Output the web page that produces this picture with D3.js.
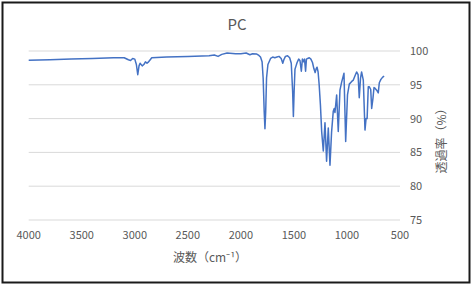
<!DOCTYPE html>
<html>
<head>
<meta charset="utf-8">
<script src="https://cdn.jsdelivr.net/npm/d3@7"></script>
<style>
  body { margin: 0; background: #fff; }
  text { font-family: "Noto Sans CJK JP", "Noto Sans", sans-serif; fill: #595959; }
</style>
</head>
<body>
<div id="chart"></div>
<script>
// wavenumber (cm-1) and transmittance (%)
const wavenumber = [4000, 3800, 3600, 3400, 3200, 3100, 3060, 3040, 3020, 3000, 2985, 2972, 2960, 2950, 2930, 2915,
  2900, 2885, 2870, 2860, 2840, 2700, 2500, 2300, 2250, 2215, 2180, 2130, 2050, 2000, 1950, 1915, 1890, 1850,
  1830, 1815, 1800, 1790, 1780, 1773, 1766, 1758, 1745, 1720, 1700, 1680, 1660, 1640, 1620, 1605, 1595, 1580,
  1560, 1540, 1525, 1512, 1505, 1498, 1490, 1480, 1470, 1455, 1443, 1430, 1420, 1410, 1400, 1390, 1382, 1370,
  1355, 1340, 1325, 1312, 1300, 1290, 1282, 1272, 1262, 1250, 1238, 1223, 1207, 1192, 1176, 1160, 1145, 1129,
  1120, 1113, 1097, 1082, 1066, 1050, 1028, 1012, 995, 978, 955, 940, 925, 909, 895, 884, 872, 862, 846, 830,
  820, 810, 799, 789, 776, 767, 755, 745, 736, 720, 705, 695, 680, 665, 650];
const transmittance = [98.65, 98.7, 98.8, 98.9, 99.0, 99.0, 98.7, 98.6, 98.9, 98.8, 98.0, 96.5, 97.8, 98.2, 97.8, 98.0,
  98.4, 98.2, 98.4, 98.6, 99.0, 99.1, 99.2, 99.3, 99.4, 99.2, 99.5, 99.7, 99.6, 99.6, 99.7, 99.45, 99.6, 99.55,
  99.35, 99.1, 98.4, 96.0, 91.0, 88.5, 91.0, 96.0, 98.0, 98.9, 99.1, 99.0, 99.1, 99.2, 98.9, 98.2, 98.7, 99.2,
  99.3, 99.0, 98.2, 94.0, 90.3, 94.0, 97.3, 97.8, 98.3, 98.8, 98.6, 97.0, 98.8, 98.4, 98.8, 97.0, 98.8, 98.9,
  99.0, 98.8, 98.3, 97.4, 96.8, 97.4, 97.6, 96.9, 95.0, 92.0, 88.0, 85.2, 89.4, 83.7, 88.6, 83.1, 88.0, 91.1,
  91.5, 90.9, 93.5, 88.1, 94.2, 95.4, 96.7, 86.6, 93.5, 95.1, 95.5, 95.7, 96.3, 96.9, 96.5, 93.1, 96.0, 96.9, 95.7, 88.3,
  90.0, 90.0, 94.7, 94.7, 94.3, 91.5, 93.0, 94.6, 94.5, 94.2, 93.8, 95.3, 95.8, 96.1, 96.3];
const xTicks = [4000, 3500, 3000, 2500, 2000, 1500, 1000, 500];
const yTicks = [75, 80, 85, 90, 95, 100];

const W = 474, H = 285;
const plot = { left: 28.7, right: 400, top: 51, bottom: 220 };

const svg = d3.select('#chart').append('svg')
  .attr('width', W)
  .attr('height', H);

// outer frame
svg.append('rect')
  .attr('x', 2.5).attr('y', 2.5)
  .attr('width', 467).attr('height', 280)
  .attr('fill', '#fff')
  .attr('stroke', '#1a1a1a')
  .attr('stroke-width', 2);

const x = d3.scaleLinear().domain([4000, 500]).range([plot.left, plot.right]);
const y = d3.scaleLinear().domain([75, 100]).range([plot.bottom, plot.top]);

// gridlines
svg.append('g')
  .selectAll('line')
  .data(yTicks)
  .join('line')
  .attr('x1', plot.left).attr('x2', plot.right)
  .attr('y1', d => y(d)).attr('y2', d => y(d))
  .attr('stroke', '#d9d9d9')
  .attr('stroke-width', 1);

// x tick labels
svg.append('g')
  .selectAll('text')
  .data(xTicks)
  .join('text')
  .attr('x', d => x(d))
  .attr('y', 239)
  .attr('text-anchor', 'middle')
  .attr('font-size', 11)
  .text(d => d);

// y tick labels (right side)
svg.append('g')
  .selectAll('text')
  .data(yTicks)
  .join('text')
  .attr('x', 410)
  .attr('y', d => y(d) + 4)
  .attr('text-anchor', 'start')
  .attr('font-size', 11)
  .text(d => d);

// spectrum
const pts = wavenumber.map((w, i) => [w, transmittance[i]]);
const line = d3.line()
  .x(d => x(d[0]))
  .y(d => y(d[1]))
  .curve(d3.curveLinear);

svg.append('path')
  .datum(pts)
  .attr('d', line)
  .attr('fill', 'none')
  .attr('stroke', '#4472c4')
  .attr('stroke-width', 1.5)
  .attr('stroke-linejoin', 'round');

// title
svg.append('text')
  .attr('x', 237).attr('y', 30)
  .attr('text-anchor', 'middle')
  .attr('font-size', 15)
  .text('PC');

// axis titles
svg.append('text')
  .attr('x', 210).attr('y', 262)
  .attr('text-anchor', 'middle')
  .attr('font-size', 12)
  .text('波数（cm⁻¹）');

svg.append('text')
  .attr('transform', 'translate(446,138) rotate(-90)')
  .attr('text-anchor', 'middle')
  .attr('font-size', 12)
  .text('透過率（%）');
</script>
</body>
</html>
